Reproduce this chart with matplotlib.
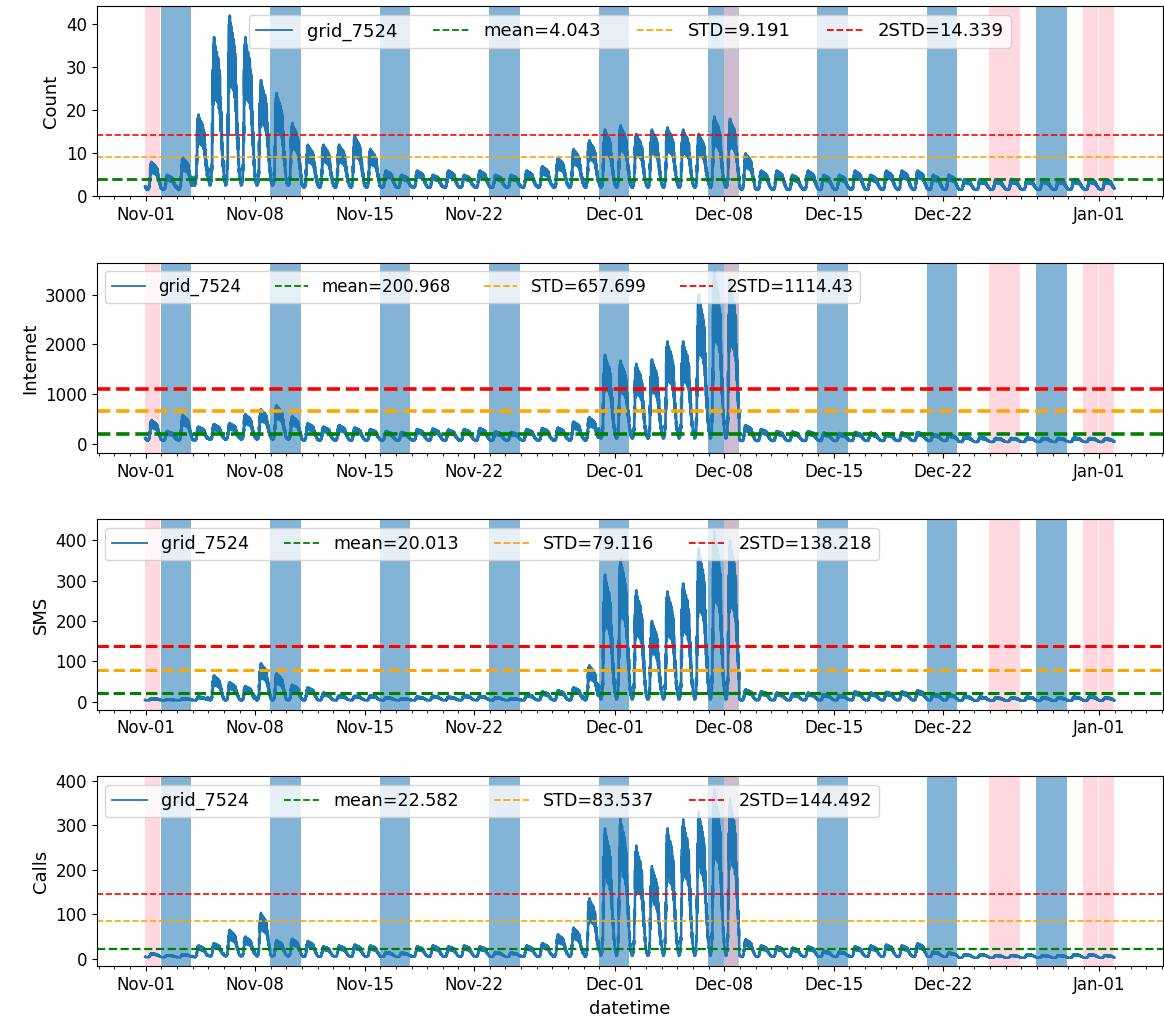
import numpy as np
import pandas as pd
import matplotlib
matplotlib.use("Agg")
import matplotlib.pyplot as plt
import matplotlib.dates as mdates

# 10-minute samples, first one is Oct-31 23:00 (source is one hour behind local time)
start = "2013-10-31 23:00"
n_days = 62  # Nov-01 .. Jan-01

# shape of a typical day, 0 = night low, 1 = daily peak (local hours 0..23)
day_profile = [0.12, 0.06, 0.03, 0.0, 0.01, 0.04, 0.14, 0.42, 0.78, 0.95, 1.0, 0.88,
               0.94, 0.82, 0.9, 0.8, 0.86, 0.74, 0.78, 0.62, 0.52, 0.38, 0.3, 0.18]
# relative dips of the six 10-minute slots inside an hour (noisy look of the raw data)
ten_min_dips = [0.0, -0.22, -0.06, -0.3, -0.04, -0.16]

# daily peaks (Nov-01 .. Jan-01)
count_peak = [8, 5, 9, 19, 37, 42, 37, 27, 24, 17, 12, 12, 12, 14, 11, 6, 5, 6, 5, 6,
              5, 6, 5, 5, 6, 7, 9, 11, 13, 15.5,
              16.5, 14.5, 15.5, 16, 15.5, 14.5, 18.5, 18, 10, 6, 6, 5, 6, 5, 5, 6, 5, 6,
              6, 6, 5, 5, 4, 4, 4, 4, 4, 4, 4, 4, 4,
              4]
internet_peak = [480, 260, 580, 350, 400, 420, 600, 700, 780, 560, 420, 350, 380, 330, 300,
                 260, 240, 300, 310, 290, 300, 320, 250, 240, 300, 320, 330, 450, 540, 1790,
                 1670, 1610, 1700, 2060, 2060, 3000, 3460, 3300, 380, 300, 260, 250, 260, 230,
                 220, 240, 230, 220, 230, 240, 200, 190, 150, 140, 120, 120, 130, 120, 120,
                 130, 120,
                 110]
sms_peak = [8, 5, 8, 12, 65, 48, 38, 95, 70, 42, 35, 22, 15, 14, 15, 10, 8, 12, 14, 12,
            16, 14, 10, 8, 18, 25, 28, 35, 90, 315,
            355, 276, 200, 273, 293, 380, 423, 400, 30, 25, 22, 20, 22, 18, 16, 25, 22, 24,
            25, 28, 20, 18, 14, 12, 10, 10, 12, 10, 10, 12, 14,
            10]
calls_peak = [12, 8, 10, 30, 35, 65, 50, 103, 42, 45, 40, 28, 30, 32, 30, 15, 14, 28, 30, 28,
              30, 28, 15, 14, 30, 35, 55, 70, 136, 293,
              316, 254, 208, 293, 313, 330, 381, 360, 44, 30, 28, 25, 28, 18, 16, 28, 30, 32,
              30, 35, 16, 14, 10, 10, 8, 8, 10, 8, 8, 10, 10,
              8]

# night lows
count_low = [1.5] * 3 + [2.5] * 7 + [2] * 20 + [2] * 8 + [1.5] * 24
internet_low = [70] * 4 + [90] * 6 + [70] * 19 + [110] * 9 + [60] * 14 + [40] * 10
sms_low = [3] * 29 + [5] * 9 + [3] * 14 + [2] * 10
calls_low = [3] * 4 + [5] * 6 + [4] * 19 + [6] * 9 + [4] * 14 + [2] * 10

# reference lines shown in the legends
panel_names = ["Count", "Internet", "SMS", "Calls"]
mean_vals = [4.043, 200.968, 20.013, 22.582]
std_vals = [9.191, 657.699, 79.116, 83.537]
std2_vals = [14.339, 1114.43, 138.218, 144.492]

# weekends (blue) and holidays (pink), start day and length in days
weekend_starts = ["2013-11-02", "2013-11-09", "2013-11-16", "2013-11-23", "2013-11-30",
                  "2013-12-07", "2013-12-14", "2013-12-21", "2013-12-28"]
holiday_starts = ["2013-11-01", "2013-12-08", "2013-12-25", "2013-12-31", "2014-01-01"]
holiday_days = [1, 1, 2, 1, 1]


def build_series(peak, low):
    peak = np.array(peak, dtype=float)
    low = np.array(low, dtype=float)
    prof = np.repeat(np.array(day_profile), 6) * np.tile(1 + np.array(ten_min_dips), 24)
    return (low[:, None] + (peak - low)[:, None] * prof[None, :]).ravel()


def main():
    times = pd.date_range(start, periods=n_days * 144, freq="10min")
    series = [build_series(count_peak, count_low),
              build_series(internet_peak, internet_low),
              build_series(sms_peak, sms_low),
              build_series(calls_peak, calls_low)]
    ylims = [(0, 44.2), (-180, 3640), (-20, 452), (-17, 410)]
    legend_locs = ["upper center", "upper left", "upper left", "upper left"]
    legend_sizes = [13, 12, 12.6, 12.6]
    data_lw = [2.0, 2.0, 2.0, 1.8]
    # (mean, std, 2std) dash widths, they differ a bit from panel to panel
    hline_lw = [(2.0, 1.2, 1.2), (2.6, 2.6, 2.6), (2.2, 2.2, 2.2), (1.6, 1.2, 1.2)]
    shift = pd.Timedelta(hours=1)

    fig, axs = plt.subplots(4, 1, figsize=(11.64, 10.29), dpi=100)
    fig.subplots_adjust(left=0.083, right=0.999, top=0.994, bottom=0.061, hspace=0.35)

    for i, ax in enumerate(axs):
        for d in weekend_starts:
            t0 = pd.Timestamp(d) - shift
            ax.axvspan(t0, t0 + pd.Timedelta(hours=47), color="tab:blue", alpha=0.55, lw=0)
        for d, n in zip(holiday_starts, holiday_days):
            t0 = pd.Timestamp(d) - shift
            ax.axvspan(t0, t0 + pd.Timedelta(hours=24 * n - 1), color="pink", alpha=0.6, lw=0)

        ax.plot(times, series[i], color="tab:blue", lw=data_lw[i], label="grid_7524")
        lw_m, lw_s, lw_2s = hline_lw[i]
        ax.axhline(mean_vals[i], color="green", ls="--", lw=lw_m, label=f"mean={mean_vals[i]}")
        ax.axhline(std_vals[i], color="orange", ls="--", lw=lw_s, label=f"STD={std_vals[i]}")
        ax.axhline(std2_vals[i], color="red", ls="--", lw=lw_2s, label=f"2STD={std2_vals[i]}")

        ax.set_ylim(*ylims[i])
        ax.set_ylabel(panel_names[i], fontsize=13)
        ax.xaxis.set_major_locator(mdates.DayLocator(bymonthday=[1, 8, 15, 22]))
        ax.xaxis.set_minor_locator(mdates.DayLocator())
        ax.xaxis.set_major_formatter(mdates.DateFormatter("%b-%d"))
        ax.tick_params(labelsize=12)
        leg = ax.legend(loc=legend_locs[i], ncol=4, fontsize=legend_sizes[i])
        # thin handles in the legend, like the original
        for h in leg.get_lines():
            h.set_linewidth(1.3)

    axs[0].set_yticks([0, 10, 20, 30, 40])
    axs[-1].set_xlabel("datetime", fontsize=13)

    plt.savefig("out.png")


if __name__ == "__main__":
    main()
